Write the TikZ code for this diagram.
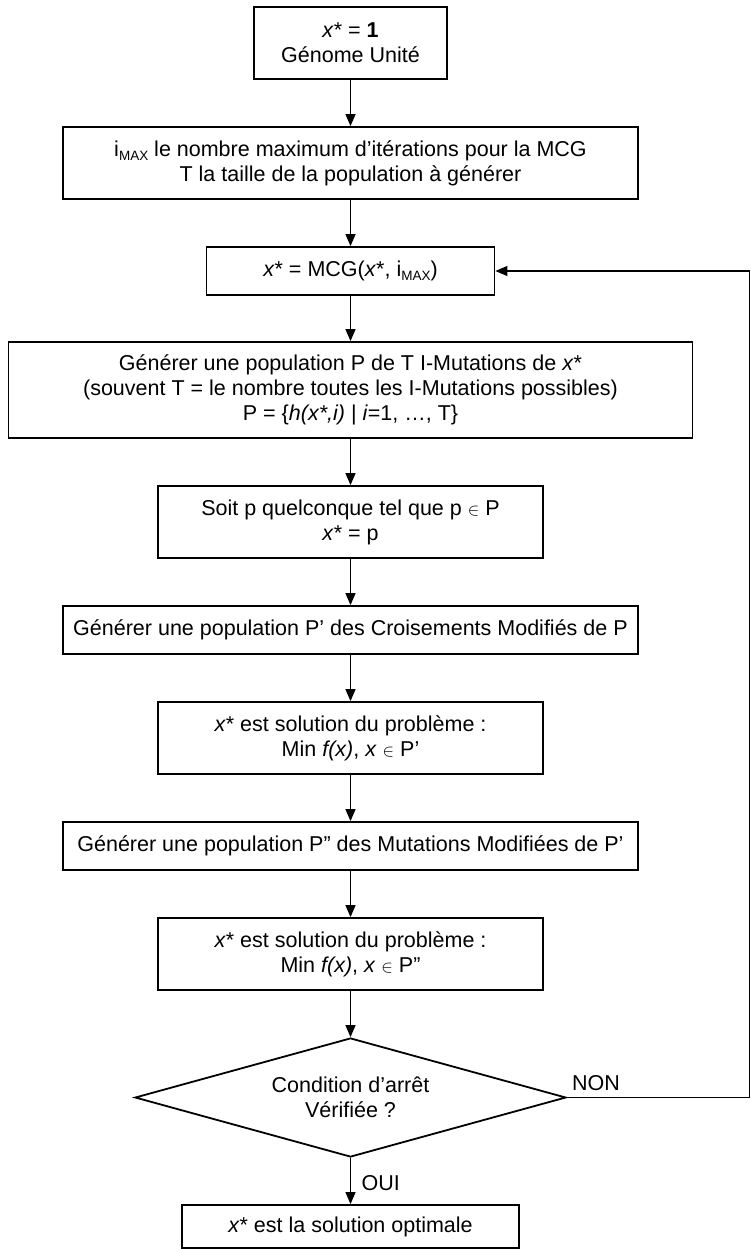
\documentclass[tikz,border=0pt]{standalone}
\usepackage{fontspec}
\setmainfont{Liberation Sans}
\usetikzlibrary{shapes.geometric,arrows.meta}
\newcommand{\xs}{\textit{x}*}
\newcommand{\imax}{i\raisebox{-0.35ex}{\fontsize{13.5}{13.5}\selectfont MAX}}
\newcommand{\elt}{{\fontsize{17.5}{17.5}\selectfont$\in$}}
\begin{document}
\begin{tikzpicture}[x=1pt,y=-1pt,
  font=\fontsize{21.5}{25}\selectfont,
  box/.style={draw, line width=1.8pt, rectangle, inner sep=0pt, align=center},
  arr/.style={line width=1.3pt, -{Triangle[length=12pt,width=10pt]}},
  lbl/.style={inner sep=0pt}]
\useasboundingbox (0,0) rectangle (751,1249);
\node[box, minimum width=193pt, minimum height=72pt] (b1) at (350.5,43) {\xs{} = \textbf{1}\\Génome Unité};
\node[box, minimum width=575pt, minimum height=72pt] (b2) at (350.5,163) {\imax{} le nombre maximum d’itérations pour la MCG\\T la taille de la population à générer};
\node[box, minimum width=288pt, minimum height=48pt] (b3) at (350.5,271) {\xs{} = MCG(\xs, \imax)};
\node[box, minimum width=684pt, minimum height=96pt] (b4) at (350.5,390) {Générer une population P de T I-Mutations de \xs\\(souvent T = le nombre toutes les I-Mutations possibles)\\P = \{\textit{h(x*,i)} | \textit{i}=1, …, T\}};
\node[box, minimum width=385pt, minimum height=72pt] (b5) at (350.5,522) {Soit p quelconque tel que p \elt{} P\\\xs{} = p};
\node[box, minimum width=575pt, minimum height=48pt] (b6) at (350.5,630) {Générer une population P’ des Croisements Modifiés de P};
\node[box, minimum width=385pt, minimum height=72pt] (b7) at (350.5,738) {\xs{} est solution du problème :\\Min \textit{f(x)}, \textit{x} \elt{} P’};
\node[box, minimum width=575pt, minimum height=48pt] (b8) at (350.5,846) {Générer une population P” des Mutations Modifiées de P’};
\node[box, minimum width=385pt, minimum height=72pt] (b9) at (350.5,954) {\xs{} est solution du problème :\\Min \textit{f(x)}, \textit{x} \elt{} P”};
\node[box, shape=diamond, aspect=3.6, minimum width=431pt, minimum height=119pt] (d) at (350.5,1097.5) {Condition d’arrêt\\Vérifiée ?};
\node[box, minimum width=337pt, minimum height=43pt] (b10) at (350.5,1226.5) {\xs{} est la solution optimale};
\coordinate (loopR) at (749.5,1097.5);
\draw[arr] (b1) -- (b2);
\draw[arr] (b2) -- (b3);
\draw[arr] (b3) -- (b4);
\draw[arr] (b4) -- (b5);
\draw[arr] (b5) -- (b6);
\draw[arr] (b6) -- (b7);
\draw[arr] (b7) -- (b8);
\draw[arr] (b8) -- (b9);
\draw[arr] (b9) -- (d);
\draw[arr] (d) -- (b10);
\draw[arr] (d.east) -- (loopR) |- (b3.east);
\node[lbl, anchor=south west] (non) at ([xshift=5pt,yshift=7pt]d.east) {NON};
\node[lbl, anchor=west] (oui) at ([xshift=11pt,yshift=-25pt]d.south) {OUI};
\end{tikzpicture}
\end{document}
